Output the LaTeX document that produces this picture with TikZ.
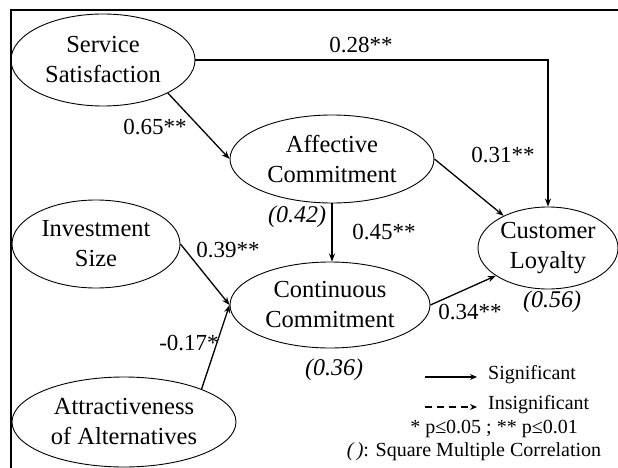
\documentclass[tikz,border=0pt]{standalone}
\usepackage{fontspec}
\setmainfont{Liberation Serif}
\usetikzlibrary{shapes.geometric,arrows.meta}
\begin{document}
\begin{tikzpicture}[x=1pt,y=-1pt,
  var/.style={ellipse,draw,line width=0.9pt,inner sep=0pt,align=center,
    font=\fontsize{24.5}{30}\selectfont},
  lbl/.style={font=\fontsize{23}{26}\selectfont,inner sep=0pt},
  rsq/.style={font=\fontsize{24}{26}\selectfont\itshape,inner sep=0pt},
  leg/.style={font=\fontsize{20}{23}\selectfont,inner sep=0pt},
  link/.style={line width=1.3pt,-{Stealth[length=8pt,width=6pt]}},
  legarrow/.style={line width=1.3pt,-{Stealth[length=7pt,width=6pt]}}]
\useasboundingbox (0,0) rectangle (618,468);
\fill[white] (0,0) rectangle (618,468);
\coordinate (fbl) at (11,468);
\coordinate (ftl) at (11,10);
\coordinate (ftr) at (618,10);
\draw[line width=1.2pt] (fbl) -- (ftl) -- (ftr);

\node[var,minimum width=184pt,minimum height=92pt] (ss) at (103,60) {Service\\Satisfaction};
\node[var,minimum width=204pt,minimum height=88pt] (ac) at (332,159) {Affective\\Commitment};
\node[var,minimum width=168pt,minimum height=88pt] (is) at (96,244) {Investment\\Size};
\node[var,minimum width=200pt,minimum height=86pt] (cc) at (330,305) {Continuous\\Commitment};
\node[var,minimum width=224pt,minimum height=90pt] (aa) at (124,422) {Attractiveness\\of Alternatives};
\node[var,minimum width=140pt,minimum height=82pt] (cl) at (548,248) {Customer\\Loyalty};

\draw[link] (ss.east) -| (cl.north);
\draw[link] (ss.-27) -- (ac.west);
\draw[link] (ac.east) -- (cl.144);
\draw[link] (ac.south) -- (ac.south |- cc.north);
\draw[link] (is.east) -- (cc.west);
\draw[link] (aa.23) -- (cc.west);
\draw[link] (cc.east) -- (cl.208);

\node[lbl] (l28) at (361,45) {0.28**};
\node[lbl] (l65) at (155,127) {0.65**};
\node[lbl] (l31) at (503,155) {0.31**};
\node[lbl] (l45) at (384,232) {0.45**};
\node[lbl] (l39) at (228,250) {0.39**};
\node[lbl] (l17) at (189,343) {-0.17*};
\node[lbl] (l34) at (470,312) {0.34**};
\node[rsq] (r42) at (297,217) {(0.42)};
\node[rsq] (r56) at (552,302) {(0.56)};
\node[rsq] (r36) at (334,370) {(0.36)};

\coordinate (s1) at (425,377);
\coordinate (s2) at (477,377);
\coordinate (d1) at (425,407);
\coordinate (d2) at (477,407);
\draw[legarrow] (s1) -- (s2);
\draw[legarrow,dashed,dash pattern=on 7pt off 5pt] (d1) -- (d2);
\node[leg,anchor=west] (tsig) at (488,375) {Significant};
\node[leg,anchor=west] (tins) at (488,405) {Insignificant};
\node[leg] (tp) at (494,429) {* p≤0.05 ; ** p≤0.01};
\node[leg] (tsq) at (474,452) {{\itshape (\,)}: Square Multiple Correlation};
\end{tikzpicture}
\end{document}
